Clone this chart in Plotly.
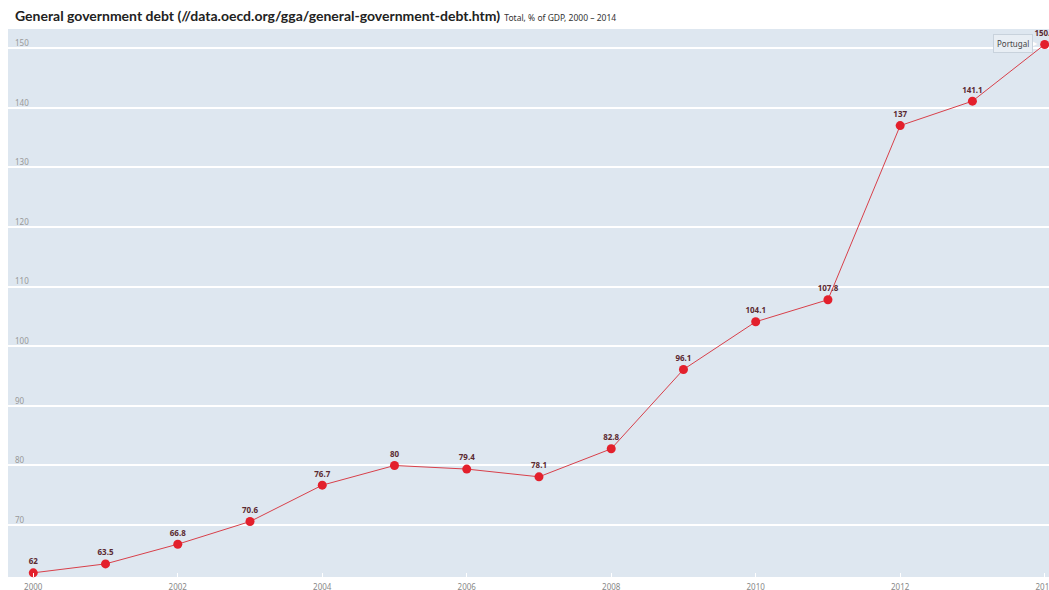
import plotly.graph_objects as go

years = list(range(2000, 2015))
debt = [62, 63.5, 66.8, 70.6, 76.7, 80, 79.4, 78.1, 82.8, 96.1, 104.1, 107.8, 137, 141.1, 150.6]
labels = ["62", "63.5", "66.8", "70.6", "76.7", "80", "79.4", "78.1", "82.8", "96.1", "104.1", "107.8", "137", "141.1", "150.6"]
y_ticks = [70, 80, 90, 100, 110, 120, 130, 140, 150]
x_ticks = [2000, 2002, 2004, 2006, 2008, 2010, 2012, 2014]
country = "Portugal"

fig = go.Figure()
fig.add_trace(go.Scatter(
    x=years, y=debt, mode="lines+markers+text",
    text=labels, textposition="top center",
    textfont=dict(family="Noto Sans", size=8, color="#5b2a30", weight="bold"),
    line=dict(color="#d8404a", width=1),
    marker=dict(color="#e3202c", size=9),
    name=country, showlegend=False, cliponaxis=False,
))

fig.update_layout(
    width=1049, height=590,
    margin=dict(l=8, r=0, t=29, b=13),
    paper_bgcolor="white",
    plot_bgcolor="#dee7f0",
    font=dict(family="Noto Sans", color="#888888", size=8),
    xaxis=dict(
        range=[1999.65, 2014.06], tickvals=x_ticks, ticktext=[str(v) for v in x_ticks],
        showgrid=False, zeroline=False, ticks="inside", ticklen=4, tickcolor="white",
        tickfont=dict(size=8, color="#888888"), ticklabeloverflow="allow",
        ticklabelstandoff=4, automargin=False,
    ),
    yaxis=dict(
        range=[61.3, 153.2], tickvals=y_ticks, ticktext=[str(v) for v in y_ticks],
        showgrid=True, gridcolor="white", gridwidth=1.5, zeroline=False,
        ticklabelposition="inside", ticklabelshift=-5, ticklabelstandoff=4,
        tickfont=dict(size=8, color="#999999"), automargin=False,
    ),
)

fig.add_annotation(
    xref="paper", yref="paper", x=0, y=1.0, xshift=5, yshift=3, xanchor="left", yanchor="bottom",
    text="<span style='font-size:14px;color:#222222;font-family:Lato;font-weight:bold'>General government debt (//data.oecd.org/gga/general-government-debt.htm)</span>"
         "  <span style='font-size:8.5px;color:#333333'>Total, % of GDP, 2000 \u2013 2014</span>",
    showarrow=False, font=dict(family="Noto Sans"),
)

fig.add_annotation(
    x=years[-1], y=debt[-1], xanchor="right", yanchor="middle", xshift=-5, yshift=1,
    text="\u25B6", showarrow=False,
    font=dict(family="DejaVu Sans", size=8, color="#ffffff"),
)
fig.add_annotation(
    x=years[-1], y=debt[-1], xanchor="right", yanchor="middle", xshift=-12, yshift=1,
    text=country, showarrow=False,
    font=dict(family="Noto Sans", size=8, color="#444444"),
    bgcolor="#e8eef4", bordercolor="#c8d2dc", borderwidth=1, borderpad=3,
)

fig.write_html("out.html")
